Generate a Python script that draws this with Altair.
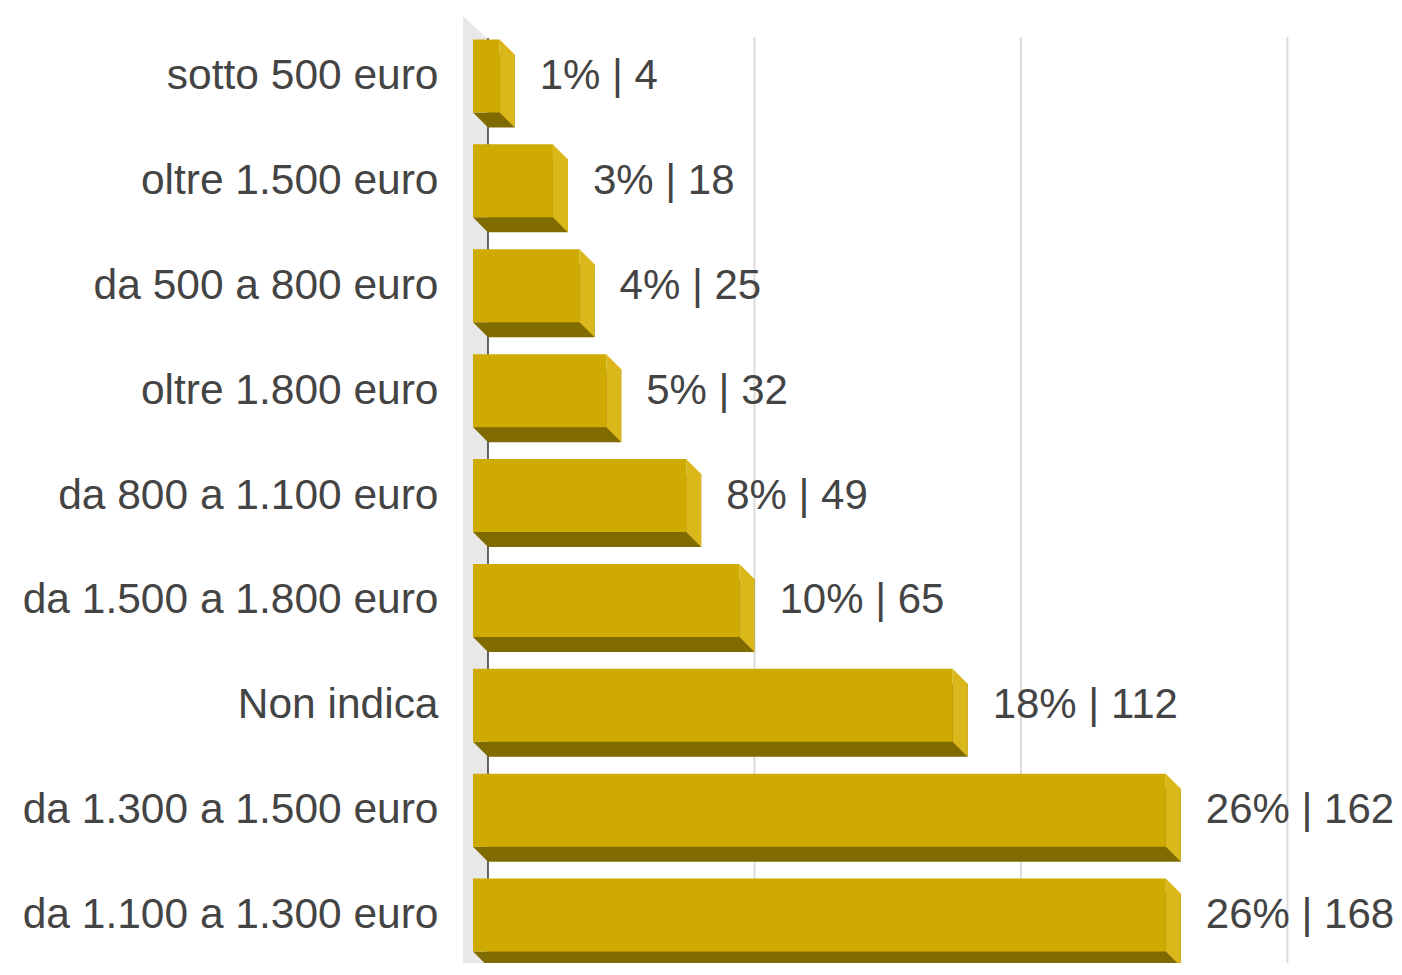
import altair as alt
import pandas as pd

categories = [
    "sotto 500 euro",
    "oltre 1.500 euro",
    "da 500 a 800 euro",
    "oltre 1.800 euro",
    "da 800 a 1.100 euro",
    "da 1.500 a 1.800 euro",
    "Non indica",
    "da 1.300 a 1.500 euro",
    "da 1.100 a 1.300 euro",
]
percents = [1, 3, 4, 5, 8, 10, 18, 26, 26]
counts = [4, 18, 25, 32, 49, 65, 112, 162, 168]
grid_values = [10, 20, 30]

df = pd.DataFrame({"cat": categories, "pct": percents, "n": counts})
df["label"] = [f"{p}% | {n}" for p, n in zip(percents, counts)]
grid_df = pd.DataFrame({"g": grid_values})

FONT = "Liberation Sans"
FS = 42.5
FS_VAL = 42
TEXT_COLOR = "#444444"
FRONT = "#CFAA00"
SIDE = "#DAB81C"
DARK = "#7F6B00"

W = 906
H = 939
DEPTH = 15

xs = alt.Scale(domain=[0, 34.0], nice=False, zero=True)
ys = alt.Scale(domain=categories, range=[0, 943.9], paddingInner=0, paddingOuter=0)

y_axis = alt.Axis(
    domain=False,
    ticks=False,
    grid=False,
    labelFont=FONT,
    labelFontSize=FS,
    labelColor=TEXT_COLOR,
    labelPadding=50,
    labelLimit=0,
)


def y_enc():
    return alt.Y("cat:N", scale=ys, sort=categories, title=None, axis=y_axis)


base = alt.Chart(df)

# left 3D wall
wall = alt.Chart(pd.DataFrame({"k": [0]})).mark_point(
    shape="M -1 -0.92 L 0 0 L 0 40 L -1 40 Z",
    size=2500,
    filled=True,
    opacity=1,
    color="#E8E8E8",
    strokeWidth=0,
).encode(x=alt.value(0), y=alt.value(15.4))

grid = alt.Chart(grid_df).mark_rule(color="#DCDCDC", strokeWidth=2).encode(
    x=alt.X("g:Q", scale=xs, axis=None),
    y=alt.value(13.4),
    y2=alt.value(980),
)

axis_line = alt.Chart(pd.DataFrame({"z": [0]})).mark_rule(color="#333333", strokeWidth=1.5).encode(
    x=alt.X("z:Q", scale=xs, axis=None),
    y=alt.value(14.4),
    y2=alt.value(980),
)

back = base.mark_bar(size=73, color=DARK, yOffset=DEPTH, y2Offset=DEPTH).encode(
    x=alt.X("pct:Q", scale=xs, axis=None),
    y=y_enc(),
)

corner = base.mark_point(
    shape="M -0.3409 0.8295 L 0 0.8295 L 0 1.1705 Z",
    size=7744,
    filled=True,
    opacity=1,
    color=DARK,
    strokeWidth=0,
).encode(
    x=alt.value(0),
    y=y_enc(),
)

front = base.mark_bar(size=73, color=FRONT, xOffset=-DEPTH, x2Offset=-DEPTH).encode(
    x=alt.X("pct:Q", scale=xs, axis=None),
    y=y_enc(),
)

side = base.mark_point(
    shape="M -0.3409 -0.8295 L 0 -0.4886 L 0 1.1705 L -0.3409 0.8295 Z",
    size=7744,
    filled=True,
    opacity=1,
    color=SIDE,
    strokeWidth=0,
).encode(
    x=alt.X("pct:Q", scale=xs, axis=None),
    y=y_enc(),
)

labels = base.mark_text(
    align="left",
    baseline="middle",
    dx=25,
    font=FONT,
    fontSize=FS_VAL,
    color=TEXT_COLOR,
).encode(
    x=alt.X("pct:Q", scale=xs, axis=None),
    y=y_enc(),
    text="label:N",
)

chart = alt.layer(wall, grid, axis_line, back, corner, front, side, labels).properties(
    width=W,
    height=H,
    autosize=alt.AutoSizeParams(type="none"),
    padding={"left": 480, "top": 15.56, "right": 0, "bottom": 0},
).configure_view(stroke=None)

chart.save("out.html", embed_options={"renderer": "svg", "actions": False})
